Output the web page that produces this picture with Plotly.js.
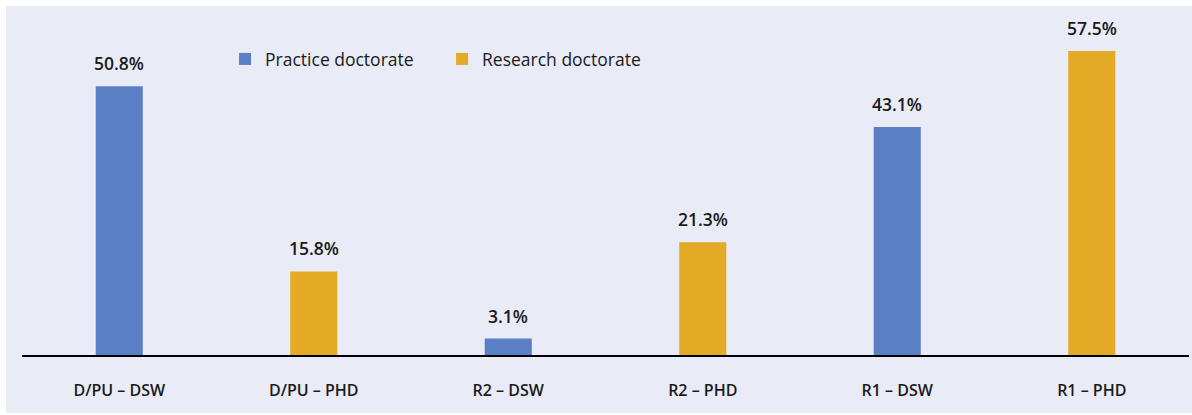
<!DOCTYPE html>
<html>
<head>
<meta charset="utf-8">
<script src="https://cdn.plot.ly/plotly-3.0.1.min.js"></script>
<style>
  html, body { margin: 0; padding: 0; background: #ffffff; }
  #chart { position: absolute; left: 6px; top: 6px; width: 1186px; height: 407px; }
</style>
</head>
<body>
<div id="chart"></div>
<script>
const categories = ["D/PU – DSW", "D/PU – PHD", "R2 – DSW", "R2 – PHD", "R1 – DSW", "R1 – PHD"];
const practiceCats = ["D/PU – DSW", "R2 – DSW", "R1 – DSW"];
const practiceVals = [50.8, 3.1, 43.1];
const researchCats = ["D/PU – PHD", "R2 – PHD", "R1 – PHD"];
const researchVals = [15.8, 21.3, 57.5];
const seriesNames = ["Practice doctorate", "Research doctorate"];

const BLUE = "#5a7fc4";
const GOLD = "#e3aa26";
const BG = "#e9ebf7";
const FONT = "Open Sans, sans-serif";

const traces = [
  { type: "bar", name: seriesNames[0], x: practiceCats, y: practiceVals, marker: { color: BLUE }, width: 0.242, hoverinfo: "skip" },
  { type: "bar", name: seriesNames[1], x: researchCats, y: researchVals, marker: { color: GOLD }, width: 0.242, hoverinfo: "skip" }
];

const annotations = [];
practiceCats.forEach((c, i) => annotations.push({ x: c, y: practiceVals[i], text: practiceVals[i].toFixed(1) + "%" }));
researchCats.forEach((c, i) => annotations.push({ x: c, y: researchVals[i], text: researchVals[i].toFixed(1) + "%" }));
annotations.forEach(a => Object.assign(a, {
  xref: "x", yref: "y", showarrow: false, yanchor: "bottom", yshift: 9,
  font: { family: FONT, size: 17.5, color: "#1a1a1a", weight: 600 }
}));

const layout = {
  width: 1186, height: 407,
  paper_bgcolor: BG, plot_bgcolor: BG,
  margin: { l: 16, r: 3, t: 10, b: 58, autoexpand: false },
  barmode: "overlay",
  showlegend: true,
  legend: {
    orientation: "h", xref: "paper", yref: "paper",
    x: 0.174, y: 0.873, xanchor: "left", yanchor: "middle",
    bgcolor: "rgba(0,0,0,0)", entrywidth: 172,
    font: { family: FONT, size: 17.5, color: "#1a1a1a", weight: 500 }
  },
  xaxis: {
    type: "category", categoryorder: "array", categoryarray: categories,
    showline: true, linecolor: "#000000", linewidth: 1.5,
    ticks: "", showgrid: false, zeroline: false,
    ticklabelstandoff: 20,
    tickfont: { family: FONT, size: 16, color: "#1a1a1a", weight: 600 }
  },
  yaxis: {
    range: [0, 64.1], showgrid: false, zeroline: false, showticklabels: false, showline: false, ticks: ""
  },
  annotations: annotations
};

Plotly.newPlot("chart", traces, layout, { displayModeBar: false, staticPlot: true });
</script>
</body>
</html>
